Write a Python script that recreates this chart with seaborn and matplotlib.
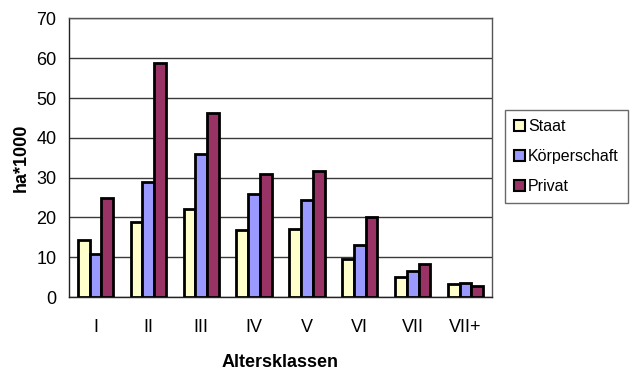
import matplotlib
matplotlib.use("Agg")
import matplotlib.pyplot as plt
import seaborn as sns
import pandas as pd
from matplotlib.patches import Patch

classes = ["I", "II", "III", "IV", "V", "VI", "VII", "VII+"]
staat = [14.3, 18.8, 22.1, 16.8, 17.0, 9.5, 5.0, 3.3]
koerperschaft = [10.8, 29.0, 35.9, 25.9, 24.4, 13.1, 6.6, 3.5]
privat = [24.8, 58.7, 46.3, 30.9, 31.6, 20.0, 8.2, 2.8]
owners = ["Staat", "Körperschaft", "Privat"]
colors = ["#FFFFCC", "#9999FF", "#993366"]

df = pd.DataFrame({
    "Altersklasse": classes * 3,
    "Eigentum": [o for o in owners for _ in classes],
    "Wert": staat + koerperschaft + privat,
})

sns.set_style("white")
plt.rcParams["font.family"] = ["Liberation Sans", "DejaVu Sans"]
plt.rcParams["text.color"] = "black"
plt.rcParams["axes.labelcolor"] = "black"
plt.rcParams["xtick.color"] = "black"
plt.rcParams["ytick.color"] = "black"

fig = plt.figure(figsize=(6.37, 3.76), dpi=100)
ax = fig.add_axes([0.1083, 0.2101, 0.6641, 0.7407])

sns.barplot(data=df, x="Altersklasse", y="Wert", hue="Eigentum",
            palette=colors, width=0.667, edgecolor="black", linewidth=2.0,
            saturation=1, legend=False, ax=ax, zorder=3)

ax.set_ylim(0, 70)
ax.set_xlim(-0.5, len(classes) - 0.5)
ax.set_yticks(range(0, 71, 10))
ax.yaxis.grid(True, color="#3a3a3a", linewidth=1.0, zorder=0)
ax.set_axisbelow(True)

# tick marks sit between categories, labels at the centres
ax.set_xticks([i + 0.5 for i in range(-1, len(classes))], minor=False)
ax.set_xticklabels([""] * (len(classes) + 1))
ax.set_xticks(range(len(classes)), minor=True)
ax.set_xticklabels(classes, minor=True)
ax.tick_params(axis="x", which="major", direction="out", length=6, width=1, color="#333333")
ax.tick_params(axis="x", which="minor", length=0, pad=16, labelsize=13)
ax.tick_params(axis="y", direction="out", length=5, width=1, color="#333333", pad=4, labelsize=13)

for side in ["top", "right"]:
    ax.spines[side].set_color("#555555")
    ax.spines[side].set_linewidth(1.0)
for side in ["left", "bottom"]:
    ax.spines[side].set_color("#222222")
    ax.spines[side].set_linewidth(1.0)

ax.set_xlabel("Altersklassen", fontsize=13, fontweight="bold", labelpad=13)
ax.set_ylabel("ha*1000", fontsize=13, fontweight="bold", labelpad=5)

handles = [Patch(facecolor=c, edgecolor="black", linewidth=1.5) for c in colors]
leg = fig.legend(handles, owners, loc="upper left",
                 bbox_to_anchor=(505 / 637, 1 - 110 / 376),
                 fontsize=11.5, frameon=True, fancybox=False,
                 handlelength=0.7, handleheight=0.7, handletextpad=0.2,
                 labelspacing=0.95, borderpad=0.55, borderaxespad=0)
leg.get_frame().set_edgecolor("#444444")
leg.get_frame().set_linewidth(1.0)

fig.savefig("out.png", dpi=100)
